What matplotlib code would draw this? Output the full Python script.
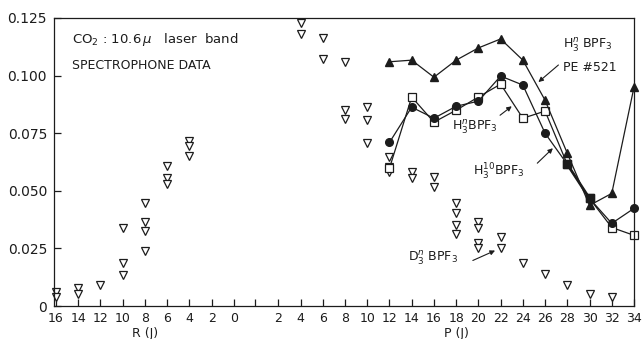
import matplotlib.pyplot as plt

# R branch and P branch share one horizontal axis:
# R(J) runs 16 -> 0 from the left, P(J) runs 2 -> 34 after a small gap
def r_pos(j):
    return 16 - j


def p_pos(j):
    return 18 + j


# D3n BPF3 open triangles, R branch
d3_r_j = [16, 16, 14, 14, 12, 10, 10, 10, 8, 8, 8, 8, 6, 6, 6, 4, 4, 4]
d3_r_val = [0.006, 0.004, 0.0077, 0.0054, 0.0093, 0.0337, 0.0185, 0.0137,
            0.0446, 0.0363, 0.0328, 0.0237, 0.0607, 0.0554, 0.0528,
            0.0715, 0.0693, 0.065]

# D3n BPF3 open triangles, P branch
d3_p_j = [4, 4, 6, 6, 8, 8, 8, 10, 10, 10, 12, 12, 12, 14, 14, 16, 16,
          18, 18, 18, 18, 20, 20, 20, 20, 22, 22, 24, 26, 28, 30, 32]
d3_p_val = [0.123, 0.118, 0.1163, 0.1072, 0.1059, 0.085, 0.081,
            0.0863, 0.0806, 0.0706, 0.0646, 0.0602, 0.058, 0.058, 0.0555,
            0.0559, 0.0515, 0.0446, 0.0402, 0.035, 0.0315,
            0.0363, 0.0337, 0.0272, 0.0254, 0.0298, 0.025,
            0.0185, 0.0141, 0.0093, 0.0054, 0.004]

# line series on the P branch
p_j = [12, 14, 16, 18, 20, 22, 24, 26, 28, 30, 32, 34]
pe521_val = [0.106, 0.1067, 0.0993, 0.1067, 0.112, 0.1159, 0.1067, 0.0893,
             0.0663, 0.0437, 0.0489, 0.095]
h3n_val = [0.0598, 0.0907, 0.0798, 0.085, 0.0907, 0.0963, 0.0815, 0.0846,
           0.0615, 0.0467, 0.0341, 0.0307]
h10_val = [0.071, 0.0863, 0.0815, 0.0867, 0.0889, 0.0998, 0.0959, 0.075,
           0.0615, 0.0467, 0.0359, 0.0424]

# points where H3n and H3(10) coincide (drawn as filled squares)
both_j = [28, 30]
both_val = [0.0615, 0.0467]

y_ticks = [0, 0.025, 0.05, 0.075, 0.1, 0.125]
y_labels = ['0', '0.025', '0.050', '0.075', '0.100', '0.125']
r_ticks = [16, 14, 12, 10, 8, 6, 4, 2, 0]
p_ticks = [2, 4, 6, 8, 10, 12, 14, 16, 18, 20, 22, 24, 26, 28, 30, 32, 34]

ink = '#1c1c1c'
plt.rcParams['font.family'] = 'DejaVu Sans'

fig = plt.figure(figsize=(6.43, 3.39), dpi=100)
ax = fig.add_axes([0.084, 0.097, 0.902, 0.850])

tri = dict(marker='v', ms=6, mfc='white', mec=ink, mew=0.9, ls='none', clip_on=False)
ax.plot([r_pos(j) for j in d3_r_j], d3_r_val, **tri)
ax.plot([p_pos(j) for j in d3_p_j], d3_p_val, **tri)

px = [p_pos(j) for j in p_j]
ax.plot(px, h3n_val, color=ink, lw=0.9, marker='s', ms=5.5, mfc='white', mec=ink,
        mew=0.9, clip_on=False)
ax.plot(px, h10_val, color=ink, lw=0.9, marker='o', ms=5.5, mfc=ink, mec=ink,
        clip_on=False)
ax.plot(px, pe521_val, color=ink, lw=0.9, marker='^', ms=6, mfc=ink, mec=ink,
        clip_on=False)
ax.plot([p_pos(j) for j in both_j], both_val, color=ink, lw=2.0, marker='s',
        ms=6, mfc=ink, mec=ink, clip_on=False)

ax.set_xlim(-0.18, 52)
ax.set_ylim(0, 0.125)

xt = [r_pos(j) for j in r_ticks] + [17.9] + [p_pos(j) for j in p_ticks]
xl = [str(j) for j in r_ticks] + [''] + [str(j) for j in p_ticks]
ax.set_xticks(xt)
ax.set_xticklabels(xl, fontsize=9)
ax.set_yticks(y_ticks)
ax.set_yticklabels(y_labels, fontsize=10)
ax.tick_params(axis='both', direction='in', length=5, width=0.9, colors=ink, pad=5)
ax.tick_params(axis='x', pad=4)
for s in ax.spines.values():
    s.set_color(ink)
    s.set_linewidth(0.9)

fig.text(145 / 643, 1 - 334 / 339, 'R (J)', ha='center', va='center', fontsize=9, color=ink)
fig.text(456 / 643, 1 - 334 / 339, 'P (J)', ha='center', va='center', fontsize=9, color=ink)

# header notes in the upper left
ax.text(1.44, 0.1155, r'CO$_2$ : 10.6$\,\mu$   laser  band', fontsize=9.5, va='center', color=ink)
ax.text(1.44, 0.1045, 'SPECTROPHONE DATA', fontsize=9, va='center', color=ink)

# series labels with pointer arrows
arrow = dict(arrowstyle='-|>', lw=0.8, color=ink, mutation_scale=7, shrinkA=0, shrinkB=0)
ax.text(45.6, 0.1133, r'H$_3^n$ BPF$_3$', fontsize=9, va='center', color=ink)
ax.text(45.6, 0.1037, 'PE #521', fontsize=9, va='center', color=ink)
ax.annotate('', xy=(43.4, 0.0972), xytext=(45.2, 0.1046), arrowprops=arrow)

ax.text(35.6, 0.0776, r'H$_3^n$BPF$_3$', fontsize=9, va='center', color=ink)
ax.annotate('', xy=(41.0, 0.0867), xytext=(39.95, 0.0828), arrowprops=arrow)

ax.text(37.5, 0.058, r'H$_3^{10}$BPF$_3$', fontsize=9, va='center', color=ink)
ax.annotate('', xy=(44.7, 0.0685), xytext=(43.3, 0.062), arrowprops=arrow)

ax.text(31.7, 0.0207, r'D$_3^n$ BPF$_3$', fontsize=9, va='center', color=ink)
ax.annotate('', xy=(39.5, 0.0241), xytext=(37.5, 0.0198), arrowprops=arrow)

fig.savefig('out.png', dpi=100)
